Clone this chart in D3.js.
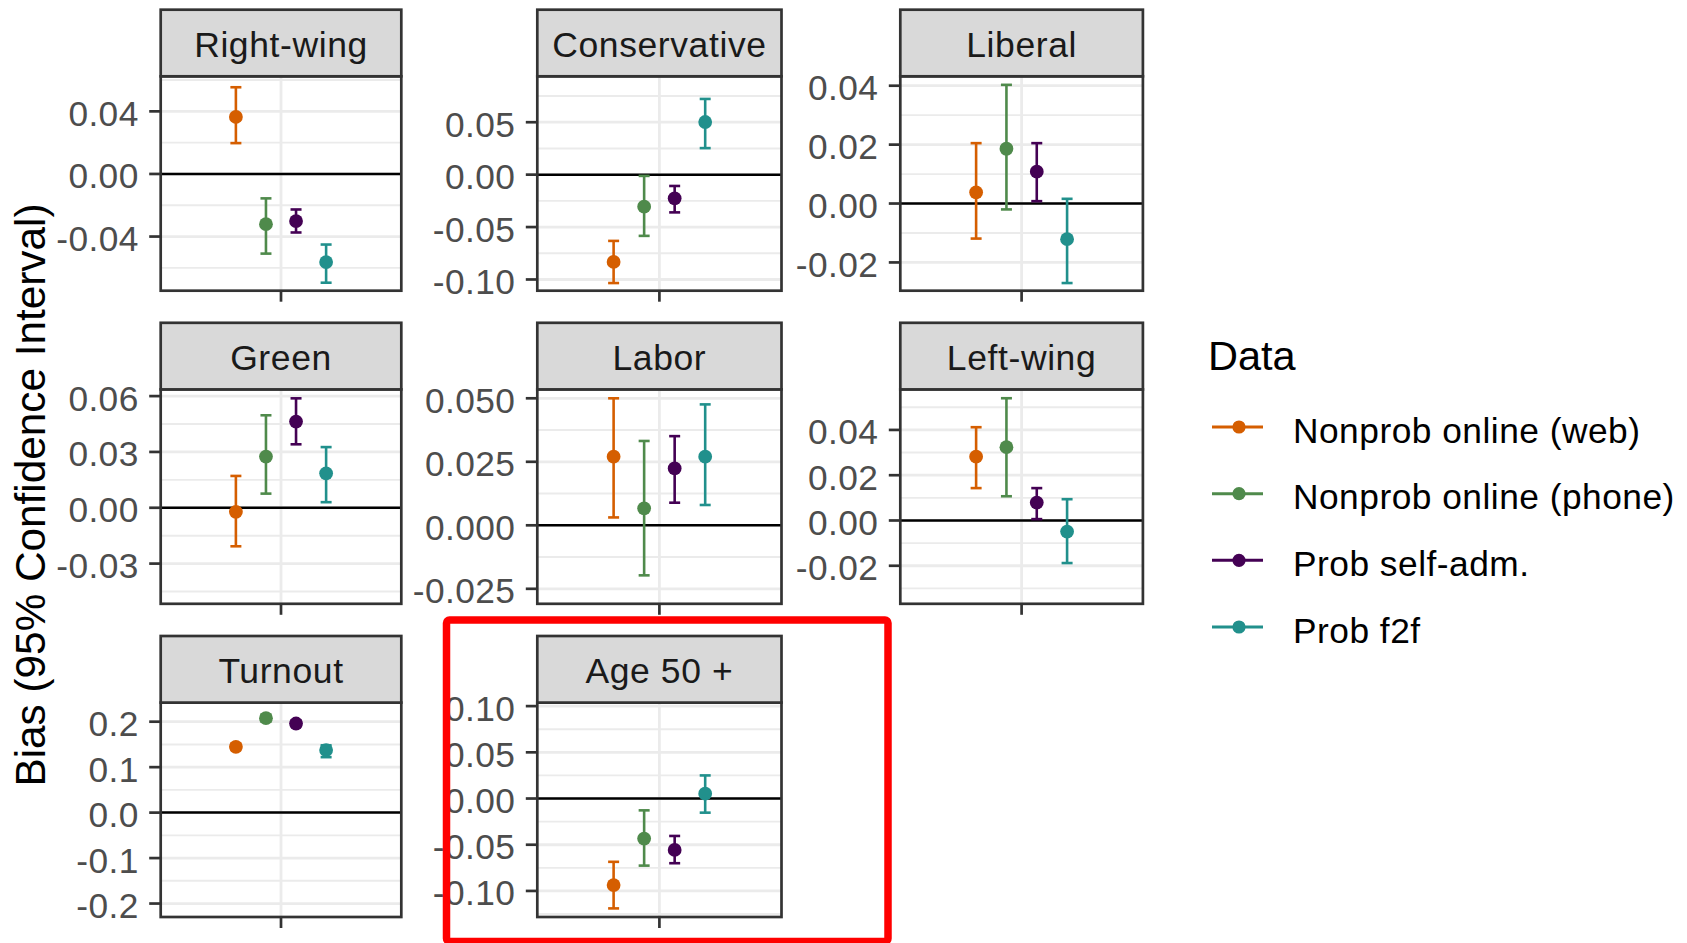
<!DOCTYPE html>
<html>
<head>
<meta charset="utf-8">
<script src="https://cdn.jsdelivr.net/npm/d3@7"></script>
<style>
  html, body { margin: 0; padding: 0; background: #ffffff; }
  svg { display: block; }
  text { font-family: "Liberation Sans", Arial, sans-serif; }
</style>
</head>
<body>
<svg id="chart" width="1687" height="943"></svg>
<script>
// ---------------- DATA ----------------
const panels = ["Right-wing", "Conservative", "Liberal", "Green", "Labor", "Left-wing", "Turnout", "Age 50 +"];
const series = ["Nonprob online (web)", "Nonprob online (phone)", "Prob self-adm.", "Prob f2f"];
const seriesColors = ["#D55E00", "#4F8A4B", "#440154", "#21908C"];

// estimate per panel, one entry per series (web, phone, self-adm, f2f)
const estimate = [
  [0.0364, -0.0321, -0.0301, -0.0563],
  [-0.0833, -0.0306, -0.0226, 0.0502],
  [0.0038, 0.0186, 0.0108, -0.0121],
  [-0.0022, 0.0275, 0.0463, 0.0185],
  [0.0270, 0.0067, 0.0224, 0.0270],
  [0.0282, 0.0324, 0.0079, -0.0049],
  [0.1448, 0.2077, 0.1960, 0.1375],
  [-0.0937, -0.0433, -0.0556, 0.0052]
];
const lower = [
  [0.0197, -0.0509, -0.0374, -0.0695],
  [-0.1034, -0.0584, -0.0360, 0.0253],
  [-0.0119, -0.0020, 0.0008, -0.0270],
  [-0.0207, 0.0076, 0.0341, 0.0030],
  [0.0031, -0.0197, 0.0089, 0.0080],
  [0.0143, 0.0107, 0.0006, -0.0188],
  [0.1380, 0.2000, 0.1900, 0.1220],
  [-0.1189, -0.0726, -0.0700, -0.0153]
];
const upper = [
  [0.0554, -0.0156, -0.0227, -0.0451],
  [-0.0632, -0.0012, -0.0108, 0.0722],
  [0.0205, 0.0403, 0.0205, 0.0016],
  [0.0171, 0.0497, 0.0588, 0.0326],
  [0.0500, 0.0332, 0.0351, 0.0476],
  [0.0412, 0.0540, 0.0143, 0.0094],
  [0.1520, 0.2150, 0.2030, 0.1480],
  [-0.0685, -0.0128, -0.0405, 0.0250]
];
// visible y-axis limits of each panel
const yLimits = [
  [-0.0746, 0.0624],
  [-0.1107, 0.0938],
  [-0.0296, 0.0432],
  [-0.0516, 0.0636],
  [-0.0309, 0.0535],
  [-0.0368, 0.0579],
  [-0.2296, 0.2420],
  [-0.1282, 0.1038]
];
const yTicks = [
  [-0.04, 0, 0.04],
  [-0.10, -0.05, 0, 0.05],
  [-0.02, 0, 0.02, 0.04],
  [-0.03, 0, 0.03, 0.06],
  [-0.025, 0, 0.025, 0.05],
  [-0.02, 0, 0.02, 0.04],
  [-0.2, -0.1, 0, 0.1, 0.2],
  [-0.10, -0.05, 0, 0.05, 0.10]
];
const yTickLabels = [
  ["-0.04", "0.00", "0.04"],
  ["-0.10", "-0.05", "0.00", "0.05"],
  ["-0.02", "0.00", "0.02", "0.04"],
  ["-0.03", "0.00", "0.03", "0.06"],
  ["-0.025", "0.000", "0.025", "0.050"],
  ["-0.02", "0.00", "0.02", "0.04"],
  ["-0.2", "-0.1", "0.0", "0.1", "0.2"],
  ["-0.10", "-0.05", "0.00", "0.05", "0.10"]
];
const yTitle = "Bias (95% Confidence Interval)";
const legendTitle = "Data";

// ---------------- LAYOUT ----------------
const svg = d3.select("#chart");
const colLeft = [160.7, 537.3, 900.3];
const colRight = [401.3, 781.5, 1142.9];
const rowTop = [9.7, 322.8, 636.0];
const stripH = 66.6;
const panelH = 214.4;
const borderW = 2.7;
const FONT = "'Liberation Sans', Arial, sans-serif";

panels.forEach((name, p) => {
  const col = p % 3, row = Math.floor(p / 3);
  const x0 = colLeft[col], x1 = colRight[col];
  const sTop = rowTop[row];
  const pTop = sTop + stripH, pBot = pTop + panelH;

  const x = d3.scaleLinear().domain([0.4, 1.6]).range([x0, x1]);
  const y = d3.scaleLinear().domain(yLimits[p]).range([pBot, pTop]);

  const g = svg.append("g").attr("class", "panel");

  g.append("rect").attr("x", x0).attr("y", pTop).attr("width", x1 - x0).attr("height", panelH)
    .attr("fill", "#ffffff");

  // minor gridlines
  const ticks = yTicks[p];
  const step = ticks[1] - ticks[0];
  const minors = [];
  for (let i = -1; i < ticks.length; i++) {
    const v = ticks[0] + (i + 0.5) * step;
    if (v > yLimits[p][0] && v < yLimits[p][1]) minors.push(v);
  }
  g.selectAll(".minor").data(minors).enter().append("line")
    .attr("x1", x0).attr("x2", x1).attr("y1", d => y(d)).attr("y2", d => y(d))
    .attr("stroke", "#EBEBEB").attr("stroke-width", 1.9);

  // major gridlines
  g.selectAll(".major").data(ticks).enter().append("line")
    .attr("x1", x0).attr("x2", x1).attr("y1", d => y(d)).attr("y2", d => y(d))
    .attr("stroke", "#EBEBEB").attr("stroke-width", 2.8);
  g.append("line").attr("x1", x(1)).attr("x2", x(1)).attr("y1", pTop).attr("y2", pBot)
    .attr("stroke", "#EBEBEB").attr("stroke-width", 2.8);

  // zero line
  g.append("line").attr("x1", x0).attr("x2", x1).attr("y1", y(0)).attr("y2", y(0))
    .attr("stroke", "#000000").attr("stroke-width", 2.5);

  // data
  const rows = series.map((s, i) => ({
    s, i, est: estimate[p][i], lo: lower[p][i], hi: upper[p][i],
    xp: x(1 + (i - 1.5) * 0.15)
  }));
  const eb = g.selectAll(".eb").data(rows).enter().append("g")
    .attr("stroke", d => seriesColors[d.i]).attr("stroke-width", 2.6);
  eb.append("line").attr("x1", d => d.xp).attr("x2", d => d.xp)
    .attr("y1", d => y(d.lo)).attr("y2", d => y(d.hi));
  eb.append("line").attr("x1", d => d.xp - 5.5).attr("x2", d => d.xp + 5.5)
    .attr("y1", d => y(d.lo)).attr("y2", d => y(d.lo));
  eb.append("line").attr("x1", d => d.xp - 5.5).attr("x2", d => d.xp + 5.5)
    .attr("y1", d => y(d.hi)).attr("y2", d => y(d.hi));
  g.selectAll(".pt").data(rows).enter().append("circle")
    .attr("cx", d => d.xp).attr("cy", d => y(d.est)).attr("r", 6.9)
    .attr("fill", d => seriesColors[d.i]);

  // panel border
  g.append("rect").attr("x", x0).attr("y", pTop).attr("width", x1 - x0).attr("height", panelH)
    .attr("fill", "none").attr("stroke", "#333333").attr("stroke-width", borderW);

  // strip
  g.append("rect").attr("x", x0).attr("y", sTop).attr("width", x1 - x0).attr("height", stripH)
    .attr("fill", "#D9D9D9").attr("stroke", "#333333").attr("stroke-width", borderW);
  g.append("text").attr("x", (x0 + x1) / 2).attr("y", sTop + 46.8)
    .attr("text-anchor", "middle").attr("font-size", 35.5).attr("letter-spacing", 0.6)
    .attr("fill", "#1A1A1A").attr("font-family", FONT).text(name);

  // y axis ticks & labels
  g.selectAll(".yt").data(ticks).enter().append("line")
    .attr("x1", x0 - 11.5).attr("x2", x0).attr("y1", d => y(d)).attr("y2", d => y(d))
    .attr("stroke", "#333333").attr("stroke-width", borderW);
  g.selectAll(".yl").data(ticks).enter().append("text")
    .attr("x", x0 - 22).attr("y", d => y(d) + 14.5)
    .attr("text-anchor", "end").attr("font-size", 35.3).attr("letter-spacing", 0.4)
    .attr("fill", "#4D4D4D").attr("font-family", FONT)
    .text((d, i) => yTickLabels[p][i]);

  // x axis tick
  g.append("line").attr("x1", x(1)).attr("x2", x(1)).attr("y1", pBot).attr("y2", pBot + 11)
    .attr("stroke", "#333333").attr("stroke-width", borderW);
});

// y axis title
svg.append("text")
  .attr("transform", "translate(45,495) rotate(-90)")
  .attr("text-anchor", "middle").attr("font-size", 42.3).attr("fill", "#000000")
  .attr("font-family", FONT).text(yTitle);

// legend
const lg = svg.append("g");
lg.append("text").attr("x", 1208).attr("y", 370).attr("font-size", 41.5)
  .attr("fill", "#000000").attr("font-family", FONT).text(legendTitle);
const legendY = [427, 493.7, 560.3, 627];
series.forEach((s, i) => {
  const ly = legendY[i];
  lg.append("line").attr("x1", 1212).attr("x2", 1263).attr("y1", ly).attr("y2", ly)
    .attr("stroke", seriesColors[i]).attr("stroke-width", 3);
  lg.append("circle").attr("cx", 1239).attr("cy", ly).attr("r", 6.6).attr("fill", seriesColors[i]);
  lg.append("text").attr("x", 1293).attr("y", ly + 15.5).attr("font-size", 35.3)
    .attr("letter-spacing", 0.5).attr("fill", "#000000").attr("font-family", FONT).text(s);
});

// red highlight box around the last panel
svg.append("rect").attr("x", 446.5).attr("y", 620).attr("width", 441.5).attr("height", 321.5)
  .attr("rx", 3).attr("fill", "none").attr("stroke", "#FF0000").attr("stroke-width", 7.5);
</script>
</body>
</html>
